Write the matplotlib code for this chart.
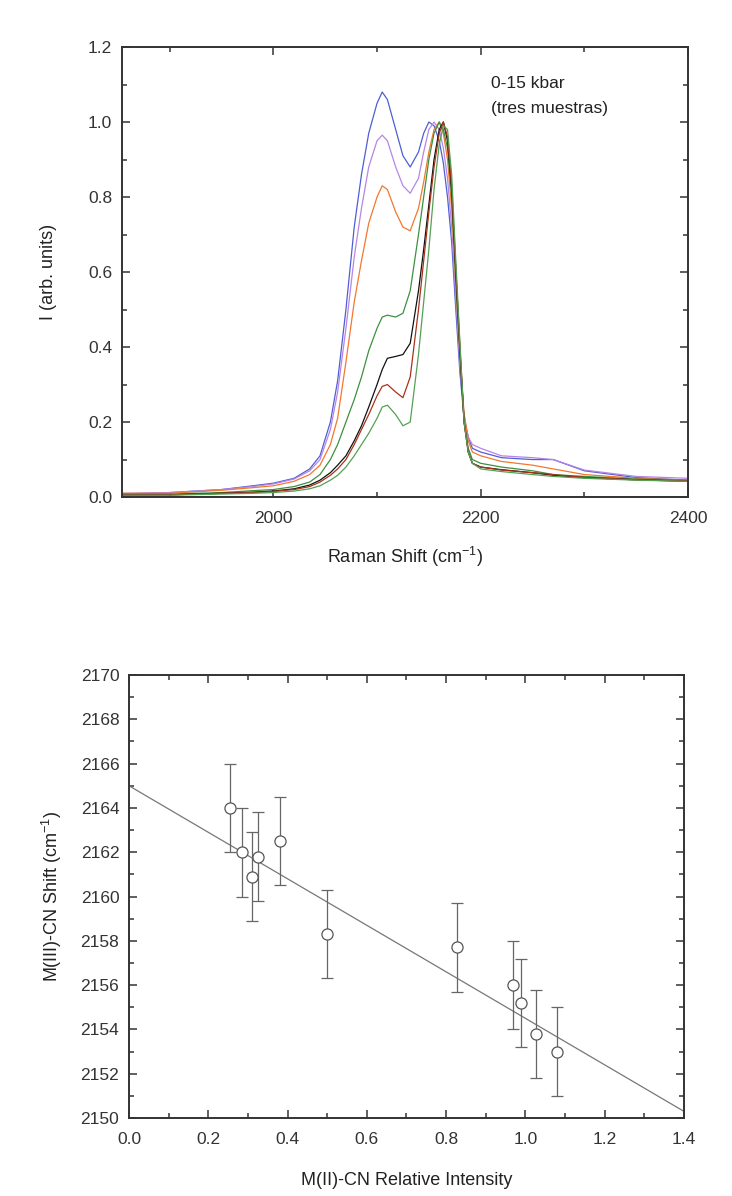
"""Raman spectra under pressure + M(III)-CN shift vs M(II)-CN intensity."""
import matplotlib

matplotlib.use("Agg")
import matplotlib.pyplot as plt
from matplotlib.ticker import MultipleLocator
import numpy as np

plt.rcParams["font.family"] = ["Liberation Sans", "DejaVu Sans"]
plt.rcParams["mathtext.fontset"] = "custom"
plt.rcParams["mathtext.rm"] = "Liberation Sans"
plt.rcParams["mathtext.it"] = "Liberation Sans"

# --- top panel: spectra ---
shift = [1854, 1900, 1950, 1980, 2000, 2020, 2035, 2045, 2055, 2062,
         2070, 2078, 2085, 2092, 2100, 2105, 2110, 2118, 2125, 2132,
         2140, 2145, 2150, 2155, 2160, 2164, 2168, 2172, 2176, 2180,
         2184, 2188, 2192, 2200, 2220, 2250, 2270, 2300, 2350, 2400]

spec_blue = [0.008, 0.012, 0.02, 0.03, 0.037, 0.05, 0.075, 0.11, 0.2, 0.31,
             0.5, 0.72, 0.86, 0.97, 1.05, 1.08, 1.06, 0.98, 0.91, 0.88,
             0.92, 0.97, 1.0, 0.99, 0.95, 0.89, 0.8, 0.68, 0.5, 0.33,
             0.21, 0.16, 0.13, 0.12, 0.105, 0.1, 0.1, 0.07, 0.052, 0.045]
spec_purple = [0.01, 0.012, 0.02, 0.028, 0.035, 0.048, 0.07, 0.1, 0.18, 0.28,
               0.45, 0.64, 0.77, 0.88, 0.95, 0.965, 0.95, 0.88, 0.83, 0.81,
               0.85, 0.92, 0.98, 1.0, 0.98, 0.93, 0.85, 0.72, 0.53, 0.35,
               0.22, 0.16, 0.14, 0.13, 0.11, 0.105, 0.1, 0.072, 0.055, 0.05]
spec_orange = [0.01, 0.01, 0.018, 0.025, 0.03, 0.042, 0.06, 0.085, 0.14, 0.21,
               0.36, 0.52, 0.63, 0.73, 0.8, 0.83, 0.82, 0.76, 0.72, 0.71,
               0.77, 0.84, 0.92, 0.98, 1.0, 0.97, 0.9, 0.77, 0.57, 0.38,
               0.22, 0.15, 0.12, 0.11, 0.095, 0.085, 0.075, 0.06, 0.05, 0.045]
spec_green1 = [0.008, 0.008, 0.012, 0.017, 0.02, 0.028, 0.04, 0.06, 0.1, 0.14,
               0.2, 0.26, 0.32, 0.39, 0.45, 0.48, 0.485, 0.48, 0.49, 0.55,
               0.7, 0.8, 0.9, 0.97, 1.0, 0.98, 0.93, 0.8, 0.58, 0.38,
               0.2, 0.13, 0.1, 0.09, 0.08, 0.07, 0.06, 0.055, 0.048, 0.045]
spec_black = [0.005, 0.006, 0.01, 0.013, 0.016, 0.022, 0.032, 0.045, 0.065, 0.085,
              0.11, 0.15, 0.19, 0.24, 0.3, 0.34, 0.37, 0.375, 0.38, 0.41,
              0.55, 0.66, 0.78, 0.9, 0.98, 1.0, 0.95, 0.82, 0.6, 0.39,
              0.2, 0.12, 0.09, 0.08, 0.073, 0.065, 0.058, 0.052, 0.046, 0.042]
spec_brown = [0.006, 0.006, 0.01, 0.012, 0.015, 0.02, 0.028, 0.04, 0.058, 0.075,
              0.1, 0.14, 0.18, 0.22, 0.27, 0.295, 0.3, 0.28, 0.265, 0.32,
              0.5, 0.63, 0.76, 0.88, 0.97, 1.0, 0.96, 0.83, 0.61, 0.4,
              0.2, 0.12, 0.09, 0.08, 0.072, 0.065, 0.06, 0.052, 0.046, 0.043]
spec_green2 = [0.005, 0.005, 0.008, 0.01, 0.012, 0.016, 0.022, 0.03, 0.045, 0.058,
               0.08, 0.11, 0.14, 0.17, 0.21, 0.24, 0.245, 0.22, 0.19, 0.2,
               0.38, 0.52, 0.66, 0.82, 0.94, 0.99, 0.98, 0.86, 0.63, 0.41,
               0.2, 0.12, 0.09, 0.075, 0.068, 0.06, 0.055, 0.05, 0.045, 0.042]

spectra = [
    (spec_blue, "#4d5fd6"),
    (spec_purple, "#b785e6"),
    (spec_orange, "#f2782e"),
    (spec_green1, "#3f8f3f"),
    (spec_black, "#111111"),
    (spec_brown, "#a8321a"),
    (spec_green2, "#55a055"),
]

# --- bottom panel: shift vs relative intensity ---
rel_int = [0.255, 0.285, 0.31, 0.325, 0.38, 0.50, 0.827, 0.969, 0.988, 1.027, 1.08]
cn_shift = [2164.0, 2162.0, 2160.9, 2161.8, 2162.5, 2158.3, 2157.7, 2156.0, 2155.2, 2153.8, 2153.0]
cn_err = [2.0, 2.0, 2.0, 2.0, 2.0, 2.0, 2.0, 2.0, 2.0, 2.0, 2.0]
fit_intercept = 2165.0
fit_slope = -10.5


def _box_ticks(ax):
    ax.tick_params(which="both", direction="in", top=True, right=True,
                   labelsize=12.5, colors="#333333", width=1.1)
    ax.tick_params(which="major", length=6)
    ax.tick_params(which="minor", length=3.5)
    ax.tick_params(axis="x", which="major", pad=10)
    ax.tick_params(axis="y", which="major", pad=7)
    for sp in ax.spines.values():
        sp.set_linewidth(1.4)
        sp.set_color("#333333")


fig = plt.figure(figsize=(7.32, 11.96), dpi=100)

ax1 = fig.add_axes([0.1667, 0.5844, 0.7732, 0.3763])
for vals, col in spectra:
    ax1.plot(shift, vals, color=col, lw=0.9)
ax1.set_xlim(1854, 2400)
ax1.set_ylim(0, 1.2)
ax1.xaxis.set_major_locator(MultipleLocator(200))
ax1.xaxis.set_minor_locator(MultipleLocator(100))
ax1.yaxis.set_major_locator(MultipleLocator(0.2))
ax1.yaxis.set_minor_locator(MultipleLocator(0.1))
ax1.yaxis.set_major_formatter(plt.FuncFormatter(lambda v, p: f"{v:.1f}"))
_box_ticks(ax1)
ax1.set_xlabel("Raman Shift (cm$^{-1}$)", fontsize=13, color="#222222", labelpad=14)
ax1.set_ylabel("I (arb. units)", fontsize=13, color="#222222", labelpad=22)
ax1.text(2210, 1.09, "0-15 kbar", fontsize=12.5, color="#222222")
ax1.text(2210, 1.025, "(tres muestras)", fontsize=12.5, color="#222222")

ax2 = fig.add_axes([0.1762, 0.0652, 0.7582, 0.3704])
xs = np.array([0.0, 1.4])
ax2.plot(xs, fit_intercept + fit_slope * xs, color="#777777", lw=0.9)
ax2.errorbar(rel_int, cn_shift, yerr=cn_err, fmt="o", ms=8, mfc="white",
             mec="#555555", mew=0.9, ecolor="#666666", elinewidth=0.9,
             capsize=4, capthick=0.9)
ax2.set_xlim(0, 1.4)
ax2.set_ylim(2150, 2170)
ax2.xaxis.set_major_locator(MultipleLocator(0.2))
ax2.xaxis.set_minor_locator(MultipleLocator(0.1))
ax2.yaxis.set_major_locator(MultipleLocator(2))
ax2.yaxis.set_minor_locator(MultipleLocator(1))
ax2.xaxis.set_major_formatter(plt.FuncFormatter(lambda v, p: f"{v:.1f}"))
_box_ticks(ax2)
ax2.set_xlabel("M(II)-CN Relative Intensity", fontsize=13, color="#222222", labelpad=18)
ax2.set_ylabel("M(III)-CN Shift (cm$^{-1}$)", fontsize=13, color="#222222", labelpad=12)

fig.savefig("out.png", dpi=100)
